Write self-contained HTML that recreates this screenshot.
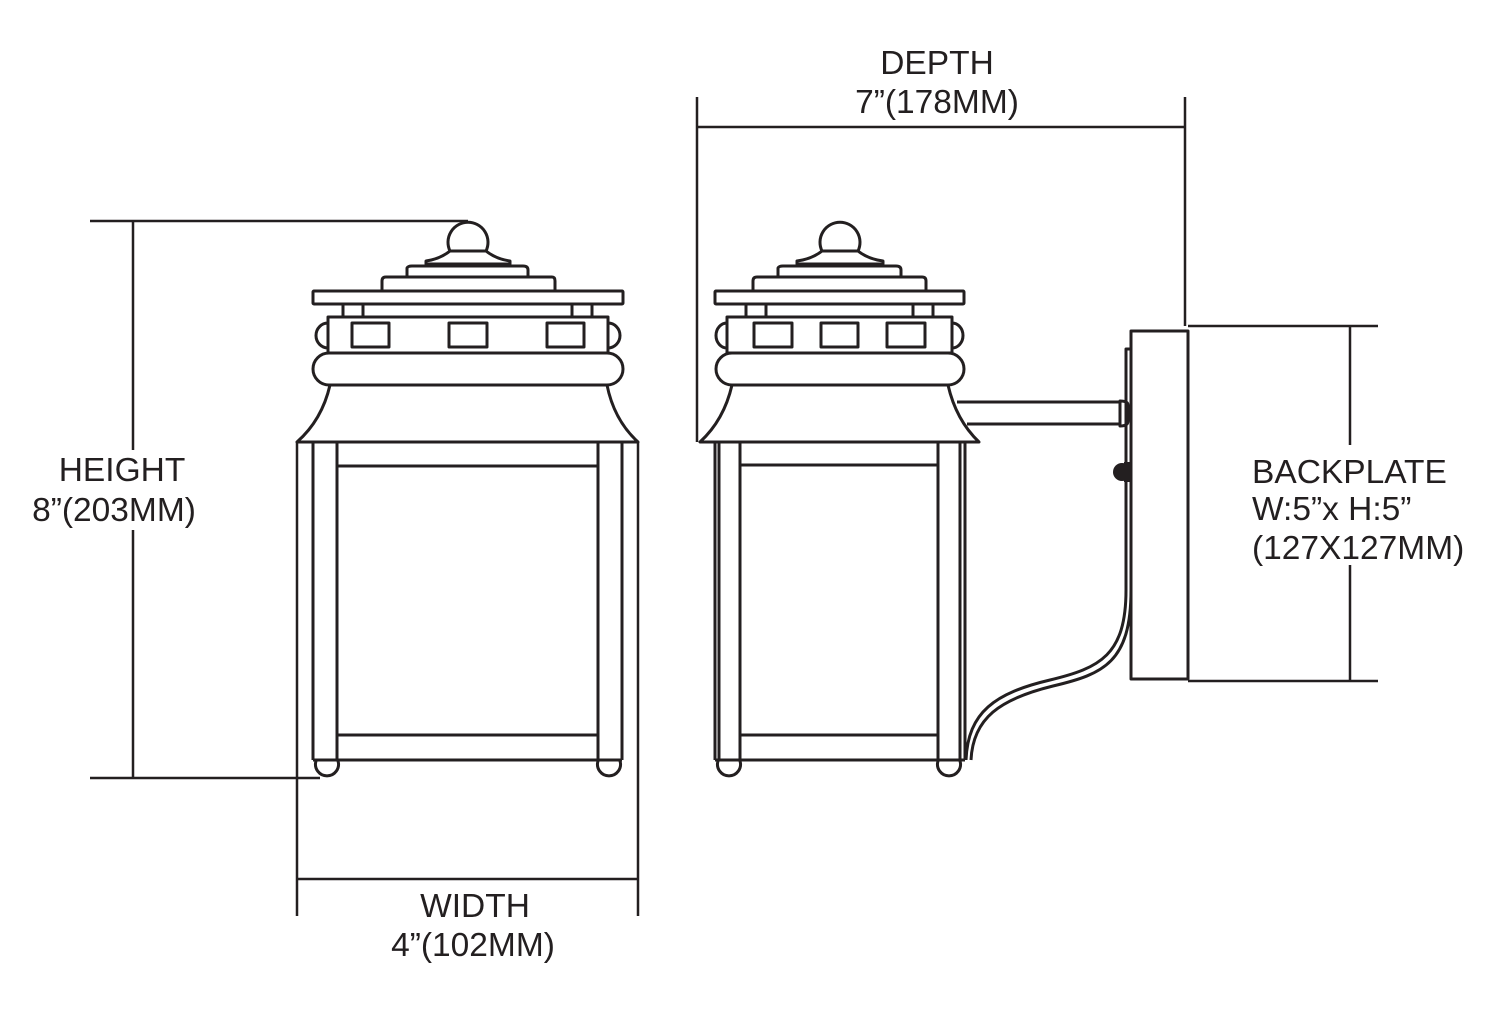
<!DOCTYPE html>
<html><head><meta charset="utf-8"><style>
html,body{margin:0;padding:0;background:#fff;}
svg{display:block;}
text{font-family:"Liberation Sans",Arial,sans-serif;font-size:33.5px;fill:#231f20;}
</style></head><body>
<svg width="1500" height="1013" viewBox="0 0 1500 1013" xmlns="http://www.w3.org/2000/svg">
<g fill="none" stroke="#231f20" stroke-width="3" stroke-linejoin="round">
<!-- dimension lines -->
<g stroke-width="2.5">
<line x1="90" y1="221" x2="468" y2="221"/>
<line x1="90" y1="778" x2="320" y2="778"/>
<line x1="133" y1="221" x2="133" y2="778"/>
<line x1="297" y1="442" x2="297" y2="916"/>
<line x1="638" y1="442" x2="638" y2="916"/>
<line x1="297" y1="879" x2="638" y2="879"/>
<line x1="697" y1="97" x2="697" y2="442"/>
<line x1="1185" y1="97" x2="1185" y2="326"/>
<line x1="697" y1="127" x2="1185" y2="127"/>
<line x1="1188" y1="326" x2="1378" y2="326"/>
<line x1="1188" y1="681" x2="1378" y2="681"/>
<line x1="1350" y1="326" x2="1350" y2="681"/>
</g>

<!-- LEFT LANTERN (front) -->
<path d="M450 251 A20 20 0 1 1 486 251 Z"/>
<path d="M450 251 Q440 259 426 261 L426 264 L510 264 L510 261 Q496 259 486 251"/>
<path d="M407 277 L407 268 Q408 266 412 266 L523 266 Q528 266 528 270 L528 277"/>
<path d="M382 291 L382 281 Q382 277 386 277 L552 277 Q555 277 555 281 L555 291"/>
<rect x="313" y="291" width="310" height="13" rx="1"/>
<path d="M343 304 V317 M363 304 V317 M572 304 V317 M592 304 V317"/>
<rect x="328" y="317" width="280" height="36"/>
<rect x="352" y="323" width="37" height="24"/>
<rect x="449" y="323" width="38" height="24"/>
<rect x="547" y="323" width="37" height="24"/>
<path d="M328 323 A12 12.5 0 0 0 328 348"/>
<path d="M608 323 A12 12.5 0 0 1 608 348"/>
<rect x="313" y="353" width="310" height="32" rx="16"/>
<path d="M330 385 Q322 420 297 442 L638 442 Q614 420 607 385"/>
<path d="M313 442 V760 M337 442 V760 M598 442 V760 M622 442 V760"/>
<path d="M337 466 H598 M337 735 H598 M313 760 H622"/>
<path d="M316 761 A11.5 11.5 0 1 0 338 761"/>
<path d="M598 761 A11.5 11.5 0 1 0 620 761"/>

<!-- RIGHT LANTERN (side) -->
<path d="M822 251 A20 20 0 1 1 858 251 Z"/>
<path d="M822 251 Q812 259 797 261 L797 264 L883 264 L883 261 Q868 259 858 251"/>
<path d="M778 277 L778 268 Q779 266 783 266 L896 266 Q901 266 901 270 L901 277"/>
<path d="M753 291 L753 281 Q753 277 757 277 L922 277 Q926 277 926 281 L926 291"/>
<rect x="715" y="291" width="249" height="13" rx="1"/>
<path d="M746 304 V317 M766 304 V317 M913 304 V317 M933 304 V317"/>
<rect x="727" y="317" width="225" height="36"/>
<rect x="754" y="323" width="38" height="24"/>
<rect x="821" y="323" width="37" height="24"/>
<rect x="887" y="323" width="38" height="24"/>
<path d="M727 323 A11 12.5 0 0 0 727 348"/>
<path d="M952 323 A11 12.5 0 0 1 952 348"/>
<rect x="716" y="353" width="248" height="32" rx="16"/>
<path d="M732 385 Q724 420 700 442 L979 442 Q956 420 948 385"/>
<path d="M715 442 V760 M719 442 V760 M740 442 V760 M938 442 V760 M960 442 V760 M965 442 V760"/>
<path d="M740 465 H938 M740 735 H938 M715 760 H965"/>
<path d="M718 761 A11.5 11.5 0 1 0 740 761"/>
<path d="M938 761 A11.5 11.5 0 1 0 960 761"/>

<!-- arm -->
<path d="M957 402 H1120 M967 424 H1120"/>
<path d="M1120 401 Q1128 401 1128 405 L1128 421 Q1128 426 1120 426 Z"/>
<!-- back plates -->
<path d="M1126 590 V349 L1131 349"/>
<rect x="1131" y="331" width="57" height="348"/>
<!-- cord -->
<path d="M1126 590 C1126 655 1100 668 1050 680 C995 693 968 712 966 760"/>
<path d="M1131 590 C1131 662 1104 674 1053 686 C1000 699 973 718 971 760"/>
</g>
<circle cx="1122" cy="472" r="9" fill="#231f20"/>
<rect x="1124" y="462" width="7" height="20" fill="#231f20"/>

<!-- label backgrounds -->
<rect x="25" y="450" width="180" height="80" fill="#fff"/>
<rect x="1246" y="445" width="225" height="120" fill="#fff"/>

<!-- labels -->
<text x="122" y="481" text-anchor="middle">HEIGHT</text>
<text x="114" y="521" text-anchor="middle">8”(203MM)</text>
<text x="475" y="917" text-anchor="middle">WIDTH</text>
<text x="473" y="956" text-anchor="middle">4”(102MM)</text>
<text x="937" y="74" text-anchor="middle">DEPTH</text>
<text x="937" y="113" text-anchor="middle">7”(178MM)</text>
<text x="1252" y="483">BACKPLATE</text>
<text x="1252" y="520">W:5”x H:5”</text>
<text x="1252" y="559">(127X127MM)</text>
</svg>
</body></html>
